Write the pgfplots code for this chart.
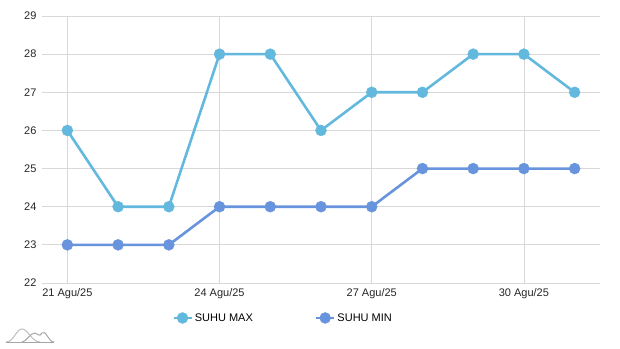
\documentclass[border=0pt]{standalone}
\usepackage{pgfplots}
\pgfplotsset{compat=1.18}
\usepackage{fontspec}
\setmainfont{Liberation Sans}
\definecolor{cmax}{HTML}{63B8DE}
\definecolor{cmin}{HTML}{6794DC}
\definecolor{gridc}{HTML}{D8D8D8}
\begin{document}
\begin{tikzpicture}[x=1pt,y=1pt]
\path[use as bounding box] (0,0) rectangle (620,-348);
\begin{axis}[
  at={(42pt,-283pt)}, anchor=south west,
  scale only axis, width=558pt, height=267pt,
  xmin=20.5, xmax=31.5, ymin=22, ymax=29,
  xtick={21,24,27,30},
  xticklabels={21 Agu/25,24 Agu/25,27 Agu/25,30 Agu/25},
  ytick={22,23,24,25,26,27,28,29},
  grid=major,
  major grid style={gridc, line width=0.8pt},
  major tick length=0pt,
  axis line style={draw=none},
  tick label style={font=\fontsize{11}{13}\selectfont, text=black!85},
  /pgf/number format/assume math mode=true,
  xticklabel style={yshift=-2pt},
  yticklabel style={xshift=-2pt},
  legend columns=2,
  legend style={draw=none, fill=none, at={(0.432,-0.131)}, anchor=center,
    font=\fontsize{11}{13}\selectfont, /tikz/every even column/.append style={column sep=60pt}},
  legend image code/.code={\draw[mark repeat=2,mark phase=2] plot coordinates {(0pt,0pt) (9pt,0pt) (18pt,0pt)};},
]
\addplot[cmax, line width=2.6pt, mark=*, mark size=5.5pt, mark options={solid, draw=cmax, fill=cmax, line width=0.4pt}]
  coordinates {(21,26) (22,24) (23,24) (24,28) (25,28) (26,26) (27,27) (28,27) (29,28) (30,28) (31,27)};
\addlegendentry{SUHU MAX}
\addplot[cmin, line width=2.6pt, mark=*, mark size=5.5pt, mark options={solid, draw=cmin, fill=cmin, line width=0.4pt}]
  coordinates {(21,23) (22,23) (23,23) (24,24) (25,24) (26,24) (27,24) (28,25) (29,25) (30,25) (31,25)};
\addlegendentry{SUHU MIN}
\end{axis}
\draw[gray!50, line width=1pt] (6,-342) .. controls (14,-342) and (16,-329) .. (22,-329) .. controls (28,-329) and (32,-342) .. (40,-342);
\draw[gray!70, line width=1pt] (6,-342) -- (54,-342);
\draw[gray!70, line width=1pt] (22,-342) .. controls (26,-342) and (30,-333) .. (35,-333) .. controls (38,-333) and (39,-338) .. (42,-333) .. controls (46,-329) and (48,-342) .. (54,-342);
\end{tikzpicture}
\end{document}
